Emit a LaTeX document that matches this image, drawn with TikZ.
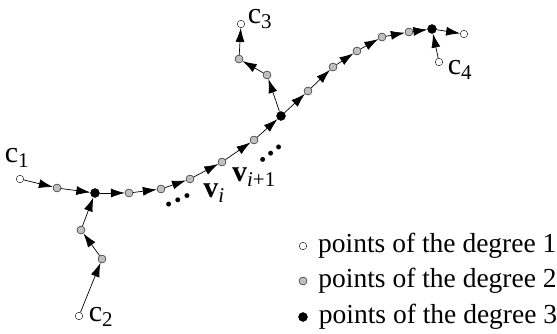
\documentclass[tikz,border=0pt]{standalone}
\usepackage{fontspec}
\setmainfont{Liberation Serif}
\usetikzlibrary{arrows.meta,positioning}

\begin{document}
\begin{tikzpicture}[x=1pt, y=-1pt, node distance=12pt, every node/.style={font=\fontsize{27.5}{30}\selectfont}, endpt/.style={circle, draw, fill=white, inner sep=0pt, minimum size=7.5pt}, midpt/.style={circle, draw, fill=gray!50, inner sep=0pt, minimum size=8pt}, jpt/.style={circle, draw, fill=black, inner sep=0pt, minimum size=9pt}, arrow/.style={-{Latex[length=14pt,width=9pt]}, line width=0.7pt}, lbl/.style={inner sep=0pt, font=\fontsize{30}{32}\selectfont}]
\useasboundingbox (0,0) rectangle (557,333);
% main curve
\node[endpt] (c1) at (20,179) {};
\node[midpt] (a1) at (57,188) {};
\node[jpt] (j1) at (95,193) {};
\node[midpt] (a2) at (129,193) {};
\node[midpt] (a3) at (161,189) {};
\node[midpt] (a4) at (190,179) {};
\node[midpt] (a5) at (222,162) {};
\node[midpt] (a6) at (254,140) {};
\node[jpt] (j2) at (281,116) {};
\node[midpt] (a7) at (308,91) {};
\node[midpt] (a8) at (333,67) {};
\node[midpt] (a9) at (357,51) {};
\node[midpt] (a10) at (382,37) {};
\node[midpt] (a11) at (409,32) {};
\node[jpt] (j3) at (432,29) {};
\node[endpt] (e1) at (464,34) {};
% branches
\node[endpt] (c2) at (79,316) {};
\node[midpt] (b1) at (102,259) {};
\node[midpt] (b2) at (81,230) {};
\node[midpt] (d1) at (267,75) {};
\node[midpt] (d2) at (239,59) {};
\node[endpt] (c3) at (241,24) {};
\node[endpt] (c4) at (439,62) {};
\foreach \p/\q in {c1/a1, a1/j1, j1/a2, a2/a3, a3/a4, a4/a5, a5/a6, a6/j2, j2/a7, a7/a8, a8/a9, a9/a10, a10/a11, a11/j3, j3/e1, c2/b1, b1/b2, b2/j1, j2/d1, d1/d2, d2/c3, c4/j3}
  \draw[arrow] (\p) -- (\q);
% labels
\node[lbl] (lc1) at (17,158) {c\textsubscript{1}};
\node[lbl] (lc2) at (101,317) {c\textsubscript{2}};
\node[lbl] (lc3) at (260,19) {c\textsubscript{3}};
\node[lbl] (lc4) at (460,70) {c\textsubscript{4}};
\node[lbl] (lvi) at (214,193) {\textbf{v}\textsubscript{\textit{i}}};
\node[lbl] (lvj) at (254,177) {\textbf{v}\textsubscript{\textit{i}+1}};
\node[lbl, rotate=25] (dots1) at (178,200) {\textbf{\textellipsis}};
\node[lbl, rotate=38] (dots2) at (271,154) {\textbf{\textellipsis}};
% legend
\node[endpt] (k1) at (303,246) {};
\node[midpt] (k2) at (303,281) {};
\node[jpt] (k3) at (303,317) {};
\node[lbl, font=\fontsize{27.5}{30}\selectfont, right=11pt of k1] (t1) {points of the degree 1};
\node[lbl, font=\fontsize{27.5}{30}\selectfont, right=11pt of k2] (t2) {points of the degree 2};
\node[lbl, font=\fontsize{27.5}{30}\selectfont, right=11pt of k3] (t3) {points of the degree 3};
\end{tikzpicture}
\end{document}
